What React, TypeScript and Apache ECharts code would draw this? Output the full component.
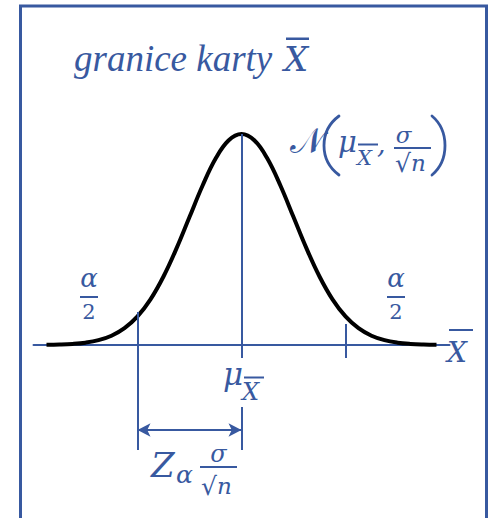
import React, { useEffect, useRef } from 'react';
import * as echarts from 'echarts';

// Standardised sample-mean axis (in units of sigma / sqrt(n)) and the bell curve heights
const zValues = [
  -3.75, -3.5, -3.25, -3, -2.75, -2.5, -2.25, -2, -1.75, -1.5, -1.25, -1, -0.75, -0.5, -0.25,
  0, 0.25, 0.5, 0.75, 1, 1.25, 1.5, 1.75, 2, 2.25, 2.5, 2.75, 3, 3.25, 3.5, 3.75,
];
const density = [
  0.0009, 0.0022, 0.0051, 0.0111, 0.0228, 0.0439, 0.0796, 0.1353, 0.2163, 0.3247, 0.4578,
  0.6065, 0.7548, 0.8825, 0.9692, 1, 0.9692, 0.8825, 0.7548, 0.6065, 0.4578, 0.3247, 0.2163,
  0.1353, 0.0796, 0.0439, 0.0228, 0.0111, 0.0051, 0.0022, 0.0009,
];

// Control limits and centre line (z), with the vertical extent of each guide [z, from, to]
const guideSegments: [number, number, number][] = [
  [-2, 0.156, -0.498],
  [0, 1, -0.062],
  [0, -0.294, -0.498],
  [2, 0.0995, -0.062],
];
// Double-headed arrow showing the distance from the centre line to the lower limit
const spanFrom = -2;
const spanTo = 0;
const spanLevel = -0.403;

const BLUE = '#3859A0';
const SERIF = '"Liberation Serif", "Times New Roman", serif';
const MATH = '"DejaVu Serif", "Liberation Serif", serif';

function label(x: number, base: number, text: string, size: number, italic = true, align = 'left', family = MATH) {
  return {
    type: 'text',
    x,
    y: base - 0.34 * size,
    silent: true,
    style: {
      text,
      fill: BLUE,
      font: `${italic ? 'italic ' : ''}${size}px ${family}`,
      align,
      verticalAlign: 'middle',
    },
  };
}

function bar(x: number, y: number, w: number, h = 2) {
  return { type: 'rect', silent: true, shape: { x, y, width: w, height: h }, style: { fill: BLUE } };
}

function paren(x0: number, xMid: number, y1: number, y2: number) {
  const c = (xMid - 0.25 * x0) / 0.75;
  return {
    type: 'bezierCurve',
    silent: true,
    shape: {
      x1: x0, y1, x2: x0, y2,
      cpx1: c, cpy1: y1 + (y2 - y1) * 0.25,
      cpx2: c, cpy2: y1 + (y2 - y1) * 0.75,
    },
    style: { stroke: BLUE, lineWidth: 2.8, fill: 'none', lineCap: 'round' },
  };
}

export default function App() {
  const ref = useRef<HTMLDivElement>(null);

  useEffect(() => {
    if (!ref.current) return;
    const chart = echarts.init(ref.current, undefined, { renderer: 'svg' });

    const markData: any[] = guideSegments.map(([z, a, b]) => [
      { coord: [z, a], symbol: 'none' },
      { coord: [z, b], symbol: 'none' },
    ]);
    markData.push([
      { coord: [spanFrom, spanLevel], symbol: 'arrow', symbolSize: [10, 13] },
      { coord: [spanTo, spanLevel], symbol: 'arrow', symbolSize: [10, 13] },
    ]);

    chart.setOption({
      animation: false,
      backgroundColor: '#ffffff',
      grid: { left: 33.5, right: 40.5, top: 28.5, bottom: 46.4, containLabel: false },
      xAxis: {
        type: 'value',
        min: -4,
        max: 4,
        axisLine: { show: true, onZero: true, lineStyle: { color: BLUE, width: 2 } },
        axisTick: { show: false },
        axisLabel: { show: false },
        splitLine: { show: false },
      },
      yAxis: {
        type: 'value',
        min: -0.6,
        max: 1.5,
        show: false,
        splitLine: { show: false },
      },
      series: [
        {
          type: 'line',
          data: zValues.map((z, i) => [z, density[i]]),
          smooth: 0.4,
          showSymbol: false,
          symbol: 'none',
          lineStyle: { color: '#000000', width: 4 },
          z: 3,
          markLine: {
            silent: true,
            animation: false,
            precision: 4,
            label: { show: false },
            lineStyle: { color: BLUE, width: 2, type: 'solid' },
            data: markData,
          },
        },
      ],
      graphic: [
        // frame
        {
          type: 'rect',
          silent: true,
          shape: { x: 20.5, y: 6, width: 466, height: 540 },
          style: { fill: 'none', stroke: BLUE, lineWidth: 3 },
        },
        // title
        label(74, 71, 'granice karty', 37, true, 'left', SERIF),
        label(284, 71, 'X', 34),
        bar(286, 37.5, 23, 2.5),
        // N(mu, sigma / sqrt(n))
        label(290, 153, '𝒩', 35, false, 'left', '"DejaVu Sans", "Noto Sans", serif'),
        paren(339, 324, 116, 175),
        label(338, 152, 'μ', 29),
        label(357, 165, 'X', 21),
        bar(358, 143.5, 20),
        label(377, 153, ',', 27),
        label(403.5, 143, 'σ', 23, true, 'center'),
        bar(394, 147, 37),
        label(395, 172, '√', 25, false),
        label(411, 171, 'n', 23),
        paren(432, 445, 116, 175),
        // alpha / 2 tails
        label(89, 287, 'α', 26, true, 'center'),
        bar(80, 296, 18),
        label(89, 319, '2', 21, false, 'center'),
        label(396, 287, 'α', 26, true, 'center'),
        bar(387, 296, 18),
        label(396, 319, '2', 21, false, 'center'),
        // axis name
        label(447, 362, 'X', 28),
        bar(449, 329, 24),
        // centre line label
        label(223, 385, 'μ', 31),
        label(242, 400, 'X', 24),
        bar(244, 376.5, 20),
        // span label Z_alpha sigma / sqrt(n)
        label(151, 477, 'Z', 34),
        label(176, 483, 'α', 25),
        label(218.5, 462, 'σ', 24, true, 'center'),
        bar(200, 466, 37),
        label(201, 495, '√', 25, false),
        label(217, 494, 'n', 23),
      ],
    });

    return () => chart.dispose();
  }, []);

  return (
    <div
      ref={ref}
      style={{ position: 'fixed', left: 0, top: 0, width: 490, height: 518, background: '#fff' }}
    />
  );
}
